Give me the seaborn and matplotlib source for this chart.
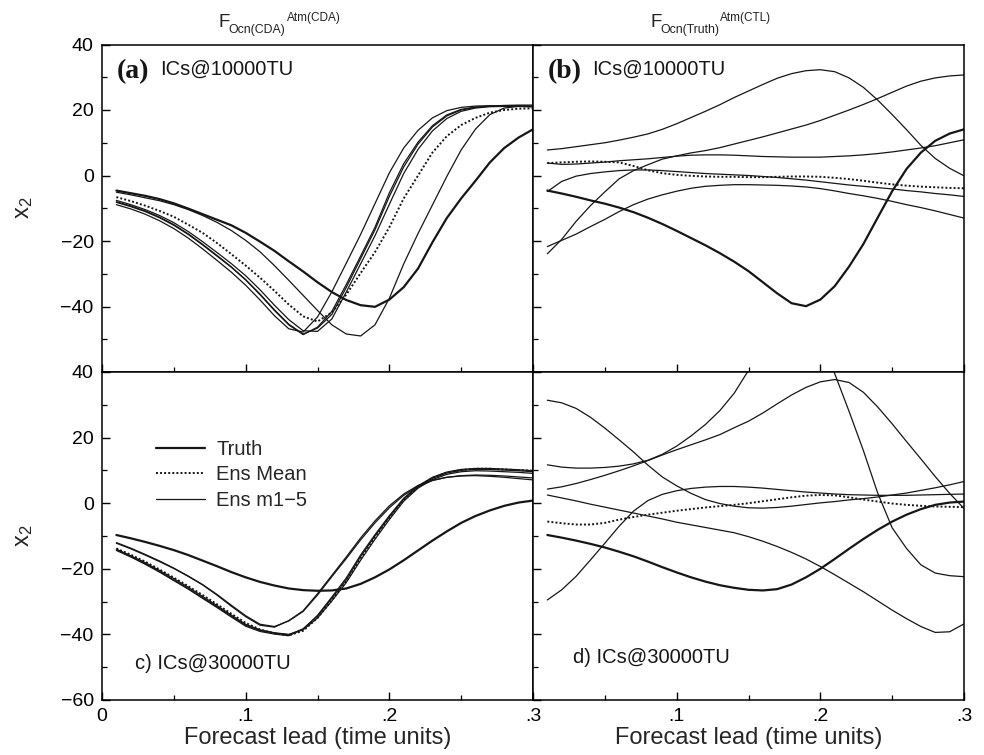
import matplotlib
matplotlib.use("Agg")
import matplotlib.pyplot as plt
from matplotlib.lines import Line2D
from matplotlib.ticker import MultipleLocator
import seaborn as sns

# forecast lead (time units)
lead = [0.01, 0.02, 0.03, 0.04, 0.05, 0.06, 0.07, 0.08, 0.09, 0.10,
        0.11, 0.12, 0.13, 0.14, 0.15, 0.16, 0.17, 0.18, 0.19, 0.20,
        0.21, 0.22, 0.23, 0.24, 0.25, 0.26, 0.27, 0.28, 0.29, 0.30]

# (a) F_Ocn(CDA)^Atm(CDA), ICs@10000TU
a_truth = [-4.6, -5.4, -6.2, -7.2, -8.5, -10.1, -11.8, -13.5, -15.2, -17.5,
           -20.2, -23.0, -26.2, -29.3, -32.6, -35.6, -38.0, -39.6, -40.1, -37.9,
           -34.1, -28.4, -20.4, -13.0, -7.0, -1.6, 4.0, 8.4, 11.6, 14.1]
a_mean = [-6.6, -7.8, -9.2, -10.8, -12.6, -15.0, -17.5, -20.6, -24.0, -27.5,
          -31.2, -35.2, -39.4, -43.0, -44.6, -41.8, -36.4, -29.8, -23.4, -15.8,
          -7.0, 0.0, 7.0, 12.0, 15.4, 17.6, 19.2, 20.0, 20.4, 20.5]
a_m1 = [-8.2, -9.5, -11.0, -12.9, -15.2, -18.0, -21.2, -24.6, -28.0, -31.9,
        -36.4, -41.2, -45.6, -48.6, -46.3, -41.5, -33.3, -24.6, -15.8, -5.3,
        3.6, 10.2, 15.2, 18.5, 20.2, 20.9, 21.2, 21.3, 21.3, 21.2]
a_m2 = [-8.9, -10.2, -11.8, -13.8, -16.2, -19.1, -22.4, -25.9, -29.5, -33.5,
        -38.0, -42.8, -46.8, -47.8, -43.2, -35.5, -26.8, -18.0, -8.6, 0.8,
        8.4, 13.8, 17.6, 19.8, 20.8, 21.2, 21.3, 21.2, 21.1, 21.0]
a_m3 = [-7.6, -8.9, -10.4, -12.2, -14.4, -17.1, -20.2, -23.5, -26.9, -30.6,
        -34.9, -39.6, -44.0, -47.4, -47.6, -43.8, -35.6, -27.0, -18.4, -8.8,
        0.6, 8.0, 13.6, 17.4, 19.6, 20.6, 21.0, 21.1, 21.1, 21.0]
a_m4 = [-8.0, -9.3, -10.8, -12.7, -15.0, -17.8, -21.0, -24.4, -27.9, -31.8,
        -36.2, -41.0, -45.4, -48.4, -46.6, -42.4, -34.2, -25.4, -16.6, -6.4,
        2.6, 9.6, 14.8, 18.2, 20.0, 20.8, 21.2, 21.4, 21.5, 21.5]
a_m5 = [-5.1, -5.9, -6.8, -7.7, -8.9, -10.4, -12.2, -14.3, -16.8, -19.8,
        -23.3, -27.5, -32.0, -36.6, -41.2, -45.6, -48.4, -49.0, -45.6, -37.5,
        -27.0, -17.7, -9.0, -0.3, 7.8, 14.2, 18.6, 20.6, 21.1, 21.1]

# (b) F_Ocn(Truth)^Atm(CTL), ICs@10000TU
b_truth = [-4.6, -5.5, -6.5, -7.6, -8.6, -9.8, -11.2, -12.9, -14.8, -16.9,
           -19.1, -21.3, -23.7, -26.3, -29.2, -32.6, -36.0, -39.0, -39.9, -37.9,
           -33.8, -27.8, -20.9, -12.8, -4.8, 2.0, 7.0, 10.6, 12.8, 14.1]
b_mean = [3.8, 4.0, 4.2, 4.3, 4.2, 4.0, 2.9, 1.6, 0.7, 0.2,
          -0.1, -0.3, -0.4, -0.4, -0.5, -0.5, -0.4, -0.3, -0.3, -0.4,
          -0.7, -1.1, -1.6, -2.2, -2.7, -3.1, -3.4, -3.6, -3.8, -3.9]
b_m1 = [7.8, 8.2, 8.8, 9.4, 10.0, 10.8, 11.7, 12.7, 14.1, 15.8,
        17.7, 19.6, 21.6, 23.8, 25.8, 27.8, 29.7, 31.1, 32.0, 32.3,
        31.7, 29.8, 26.9, 23.0, 18.6, 14.0, 9.2, 5.2, 2.2, -0.1]
b_m2 = [-23.9, -19.5, -14.0, -9.2, -5.0, -1.0, 1.5, 3.3, 5.0, 6.0,
        6.9, 7.6, 8.5, 9.6, 10.7, 11.8, 13.0, 14.2, 15.4, 16.8,
        18.4, 20.0, 21.7, 23.5, 25.4, 27.3, 28.8, 29.8, 30.4, 30.7]
b_m3 = [3.8, 3.4, 3.5, 3.8, 4.1, 4.5, 4.8, 5.1, 5.5, 5.9,
        6.2, 6.3, 6.3, 6.2, 6.0, 5.8, 5.7, 5.6, 5.6, 5.6,
        5.8, 6.0, 6.3, 6.7, 7.2, 7.8, 8.4, 9.1, 10.0, 10.9]
b_m4 = [-4.9, -1.8, -0.2, 0.6, 1.1, 1.5, 1.7, 1.7, 1.5, 1.2,
        0.9, 0.6, 0.4, 0.2, 0.0, -0.3, -0.6, -1.0, -1.4, -1.9,
        -2.4, -2.9, -3.3, -3.7, -4.1, -4.6, -5.0, -5.5, -5.9, -6.4]
b_m5 = [-21.7, -19.8, -17.9, -15.6, -13.4, -11.0, -8.9, -7.2, -5.9, -4.8,
        -3.9, -3.3, -3.0, -2.8, -2.8, -2.9, -3.0, -3.2, -3.5, -4.0,
        -4.7, -5.5, -6.2, -7.0, -7.9, -8.9, -9.8, -10.8, -11.9, -13.0]

# (c) F_Ocn(CDA)^Atm(CDA), ICs@30000TU
c_truth = [-9.7, -10.7, -11.8, -13.0, -14.3, -15.8, -17.5, -19.2, -21.0, -22.6,
           -24.0, -25.1, -26.0, -26.5, -26.7, -26.6, -26.0, -24.6, -22.6, -20.2,
           -17.4, -14.4, -11.4, -8.6, -6.0, -3.9, -2.2, -0.8, 0.2, 0.8]
c_mean = [-13.8, -15.7, -17.8, -20.2, -22.7, -25.3, -28.0, -30.8, -33.7, -36.5,
          -38.5, -39.7, -40.3, -38.9, -35.0, -29.6, -23.8, -16.8, -10.3, -4.4,
          1.0, 5.0, 7.7, 9.3, 10.1, 10.5, 10.5, 10.3, 10.1, 9.9]
c_m1 = [-12.2, -13.9, -15.8, -17.8, -19.9, -22.3, -24.9, -28.0, -31.4, -34.6,
        -37.2, -37.8, -35.8, -32.8, -27.6, -22.0, -16.4, -10.6, -5.4, -0.8,
        2.8, 5.4, 7.0, 7.9, 8.3, 8.4, 8.2, 7.9, 7.5, 7.1]
c_m2 = [-12.0, -13.7, -15.6, -17.6, -19.8, -22.2, -24.8, -27.8, -31.1, -34.3,
        -36.9, -37.6, -35.9, -33.0, -28.0, -22.4, -16.9, -11.2, -6.0, -1.4,
        2.4, 5.1, 6.9, 7.9, 8.4, 8.6, 8.5, 8.3, 8.0, 7.7]
c_m3 = [-14.2, -16.2, -18.4, -20.8, -23.4, -26.0, -28.8, -31.5, -34.4, -37.2,
        -38.8, -39.6, -40.1, -38.3, -34.4, -29.0, -23.4, -16.3, -10.0, -4.2,
        1.2, 5.0, 7.6, 9.2, 10.0, 10.3, 10.3, 10.1, 9.9, 9.6]
c_m4 = [-14.0, -16.0, -18.1, -20.5, -23.0, -25.6, -28.4, -31.2, -34.1, -36.9,
        -38.6, -39.5, -40.0, -38.6, -35.0, -29.8, -24.2, -17.4, -11.0, -5.0,
        0.6, 4.6, 7.2, 8.8, 9.6, 9.9, 9.8, 9.6, 9.4, 9.1]
c_m5 = [-14.4, -16.4, -18.6, -21.0, -23.6, -26.2, -29.0, -31.8, -34.7, -37.5,
        -39.1, -39.9, -40.4, -38.4, -34.2, -28.6, -22.8, -15.8, -9.6, -3.8,
        1.5, 5.3, 7.9, 9.5, 10.3, 10.6, 10.6, 10.4, 10.2, 9.9]

# (d) F_Ocn(Truth)^Atm(CTL), ICs@30000TU
d_truth = [-9.7, -10.5, -11.4, -12.4, -13.5, -14.8, -16.2, -17.8, -19.5, -21.1,
           -22.6, -23.9, -25.0, -25.8, -26.4, -26.6, -26.2, -24.8, -22.6, -20.0,
           -17.0, -13.9, -10.9, -8.1, -5.6, -3.5, -1.8, -0.5, 0.2, 0.5]
d_mean = [-5.6, -6.1, -6.5, -6.5, -6.0, -5.0, -4.2, -3.5, -2.9, -2.3,
          -1.8, -1.3, -0.9, -0.5, 0.0, 0.6, 1.2, 1.8, 2.3, 2.5,
          2.4, 1.8, 1.1, 0.5, -0.1, -0.5, -0.8, -1.0, -1.1, -1.2]
d_m1 = [31.4, 30.6, 28.9, 26.2, 22.9, 19.3, 15.6, 11.6, 8.0, 5.3,
        3.0, 1.1, -0.1, -0.9, -1.4, -1.5, -1.3, -0.9, -0.4, 0.1,
        0.5, 1.0, 1.4, 1.9, 2.5, 3.1, 3.9, 4.7, 5.6, 6.6]
d_m2 = [11.7, 11.0, 10.7, 10.7, 10.9, 11.3, 12.0, 13.1, 14.9, 17.4,
        20.5, 24.0, 28.2, 33.5, 40.5, 47.0, 52.0, 55.0, 55.0, 50.0,
        39.5, 28.0, 16.0, 3.0, -7.5, -13.8, -18.8, -21.3, -22.1, -22.4]
d_m3 = [4.3, 5.0, 6.0, 7.2, 8.5, 9.9, 11.4, 13.0, 14.7, 16.3,
        17.8, 19.3, 20.9, 23.0, 25.0, 27.5, 30.3, 33.0, 35.3, 37.0,
        37.7, 36.8, 33.8, 29.3, 24.2, 18.8, 13.5, 8.1, 3.0, -1.6]
d_m4 = [2.5, 1.6, 0.7, -0.3, -1.2, -2.1, -3.0, -3.9, -4.8, -5.8,
        -6.6, -7.4, -8.2, -9.0, -10.2, -11.6, -13.2, -15.0, -17.0, -19.3,
        -21.8, -24.4, -27.0, -29.8, -32.6, -35.2, -37.6, -39.4, -39.2, -36.8]
d_m5 = [-29.5, -26.4, -22.3, -17.3, -12.2, -7.0, -2.4, 0.8, 2.7, 3.8,
        4.5, 4.9, 5.1, 5.1, 4.9, 4.6, 4.2, 3.8, 3.4, 3.1,
        2.8, 2.6, 2.5, 2.4, 2.4, 2.4, 2.5, 2.6, 2.7, 2.8]

x_ticks = [0.0, 0.1, 0.2, 0.3]
x_ticklabels_left = ["0", ".1", ".2", ".3"]
x_ticklabels_right = ["", ".1", ".2", ".3"]
y_ticks = [-60, -40, -20, 0, 20, 40]
y_ticklabels_top = ["", "\u221240", "\u221220", "0", "20", "40"]
y_ticklabels_bottom = ["\u221260", "\u221240", "\u221220", "0", "20", "40"]
series_names = ["Truth", "Ens Mean", "Ens m1\u22125"]

sns.set_theme(style="white")
plt.rcParams["font.family"] = ["Liberation Sans", "DejaVu Sans"]
plt.rcParams["mathtext.fontset"] = "custom"
plt.rcParams["mathtext.rm"] = "Liberation Sans"
plt.rcParams["mathtext.it"] = "Liberation Sans"

INK = "#161616"
LW_TRUTH, LW_MEAN, LW_MEMBER = 1.6, 1.4, 0.9
W, H = 984, 755
fig = plt.figure(figsize=(W / 100, H / 100), dpi=100)


def box(x0, y0, x1, y1):
    return [x0 / W, 1 - y1 / H, (x1 - x0) / W, (y1 - y0) / H]


def fxy(px, py):
    return px / W, 1 - py / H


ax_a = fig.add_axes(box(102, 44.5, 533, 372))
ax_b = fig.add_axes(box(533, 44.5, 964, 372))
ax_c = fig.add_axes(box(102, 372, 533, 700))
ax_d = fig.add_axes(box(533, 372, 964, 700))

panels = [
    (ax_a, a_truth, a_mean, [a_m1, a_m2, a_m3, a_m4, a_m5]),
    (ax_b, b_truth, b_mean, [b_m1, b_m2, b_m3, b_m4, b_m5]),
    (ax_c, c_truth, c_mean, [c_m1, c_m2, c_m3, c_m4, c_m5]),
    (ax_d, d_truth, d_mean, [d_m1, d_m2, d_m3, d_m4, d_m5]),
]

DOT = (0, (1.0, 1.1))
for ax, truth, mean, members in panels:
    for m in members:
        sns.lineplot(x=lead, y=m, ax=ax, color=INK, linewidth=LW_MEMBER)
    sns.lineplot(x=lead, y=mean, ax=ax, color=INK, linewidth=LW_MEAN, linestyle=DOT)
    sns.lineplot(x=lead, y=truth, ax=ax, color=INK, linewidth=LW_TRUTH)
    ax.set_xlim(0, 0.3)
    ax.set_ylim(-60, 40)
    ax.xaxis.set_minor_locator(MultipleLocator(0.05))
    ax.yaxis.set_minor_locator(MultipleLocator(10))
    ax.tick_params(which="both", direction="in", left=True, bottom=True,
                   top=False, right=False, colors="black", labelsize=14, pad=6)
    ax.tick_params(which="major", length=6, width=1.0)
    ax.tick_params(which="minor", length=3.5, width=0.9)
    for sp in ax.spines.values():
        sp.set_color("black")
        sp.set_linewidth(1.1)
    ax.set_xlabel("")
    ax.set_ylabel("")

for ax in (ax_a, ax_b, ax_c, ax_d):
    ax.set_xticks(x_ticks)
    ax.set_yticks(y_ticks)

ax_a.set_yticklabels(y_ticklabels_top)
ax_c.set_yticklabels(y_ticklabels_bottom)
ax_b.tick_params(labelleft=False)
ax_d.tick_params(labelleft=False)
ax_a.tick_params(labelbottom=False)
ax_b.tick_params(labelbottom=False)
ax_c.set_xticklabels(x_ticklabels_left)
ax_d.set_xticklabels(x_ticklabels_right)

for ax in (ax_c, ax_d):
    ax.set_xlabel("Forecast lead (time units)", fontsize=17, labelpad=1)
for ax in (ax_a, ax_c):
    ax.set_ylabel("x$_2$", fontsize=17)
    ax.yaxis.set_label_coords(-0.155, 0.5)

# column headings F_{sub}^{sup}
for fx, sub, sup in [(218, "Ocn(CDA)", "Atm(CDA)"), (650, "Ocn(Truth)", "Atm(CTL)")]:
    fig.text(*fxy(fx, 27), "F", fontsize=13.5, color="#222222", va="baseline")
    fig.text(*fxy(fx + 10, 33), sub, fontsize=8.8, color="#222222", va="baseline")
    sup_x = fx + 10 + (59 if sub == "Ocn(CDA)" else 60)
    fig.text(*fxy(sup_x, 21), sup, fontsize=8.5, color="#222222", va="baseline")

# panel annotations
fig.text(*fxy(117, 78), "(a)", fontsize=20, fontweight="bold",
         family="Liberation Serif", va="baseline", color=INK)
fig.text(*fxy(160, 75), "ICs@10000TU", fontsize=14.5, va="baseline", color=INK)
fig.text(*fxy(548, 78), "(b)", fontsize=20, fontweight="bold",
         family="Liberation Serif", va="baseline", color=INK)
fig.text(*fxy(592, 75), "ICs@10000TU", fontsize=14.5, va="baseline", color=INK)
fig.text(*fxy(135, 669), "c) ICs@30000TU", fontsize=14.5, va="baseline", color=INK)
fig.text(*fxy(573, 663), "d) ICs@30000TU", fontsize=14.5, va="baseline", color=INK)

handles = [
    Line2D([], [], color=INK, linewidth=LW_TRUTH),
    Line2D([], [], color=INK, linewidth=LW_MEAN, linestyle=DOT),
    Line2D([], [], color=INK, linewidth=LW_MEMBER),
]
ax_c.legend(handles, series_names, loc="upper left",
            bbox_to_anchor=fxy(156, 440), bbox_transform=fig.transFigure,
            frameon=False, fontsize=14.5, handlelength=2.45, handletextpad=0.55,
            labelspacing=0.32, borderpad=0, borderaxespad=0)

fig.savefig("out.png", dpi=100)
